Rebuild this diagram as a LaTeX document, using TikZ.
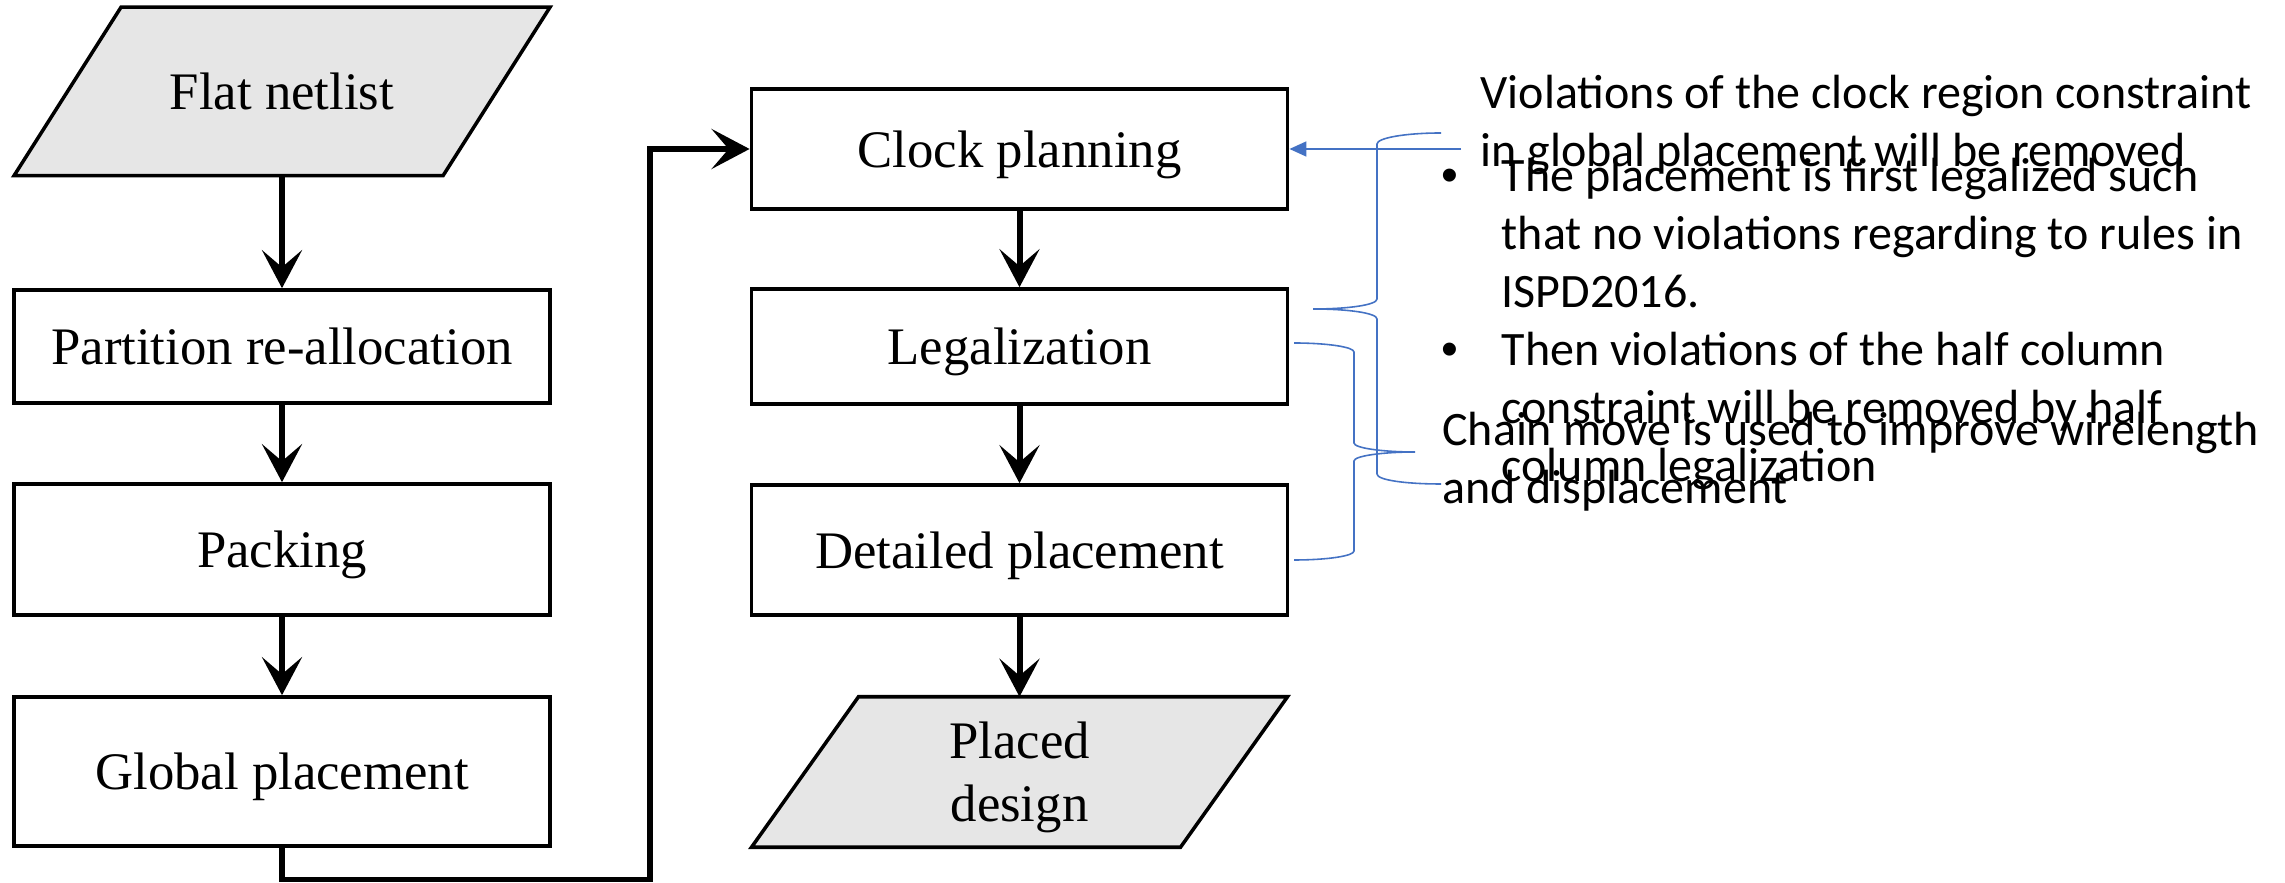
\documentclass[tikz,border=0pt]{standalone}
\usepackage{fontspec}
\setmainfont{Liberation Serif}
\newfontfamily\notefont{Carlito}
\newfontfamily\bulletfont{Liberation Sans}
\usetikzlibrary{arrows.meta,calc,backgrounds}
\definecolor{iofill}{RGB}{230,230,230}
\definecolor{noteblue}{RGB}{68,114,196}
\newcommand{\notebullet}{{\bulletfont\textbullet}}
\tikzset{
  boxfont/.style={font=\fontsize{15pt}{18pt}\selectfont},
  stepbox/.style={rectangle, draw, line width=1pt, fill=white, minimum width=5.36cm,
    inner sep=0pt, text depth=0pt, align=center, boxfont},
  iotext/.style={rectangle, minimum width=5.36cm, inner sep=0pt, text depth=0pt,
    align=center, boxfont},
  ioshape/.style={draw, line width=1pt, fill=iofill, line join=miter},
  flow/.style={line width=1.7pt, line join=miter,
    -{Stealth[length=0.38cm, width=0.40cm, inset=0.17cm]}},
  notearrow/.style={draw=noteblue, line width=0.45pt,
    -{Triangle[length=0.17cm, width=0.15cm]}},
  bracepath/.style={draw=noteblue, line width=0.45pt},
  note/.style={font=\notefont\fontsize{13.65pt}{16.45pt}\selectfont, inner sep=0pt,
    anchor=base west}
}
\begin{document}
\begin{tikzpicture}[x=0.01cm, y=-0.01cm]
\useasboundingbox (0,0) rectangle (2285,883);

% left column of the flow
\node[iotext, minimum height=1.67cm] (flat) at (282,91.5) {Flat netlist};
\node[stepbox, minimum height=1.13cm] (part) at (282,346.5) {Partition re-allocation};
\node[stepbox, minimum height=1.31cm] (pack) at (282,549.5) {Packing};
\node[stepbox, minimum height=1.49cm] (glob) at (282,771.5) {Global placement};

% right column of the flow
\node[stepbox, minimum height=1.20cm] (clock) at (1019.5,149) {Clock planning};
\node[stepbox, minimum height=1.15cm] (legal) at (1019.5,346.5) {Legalization};
\node[stepbox, minimum height=1.30cm] (detail) at (1019.5,550) {Detailed placement};
\node[iotext, minimum height=1.49cm] (placed) at (1019.5,772) {Placed\\design};

% input/output parallelograms behind their labels
\begin{scope}[on background layer]
  \fill[white] (0,0) rectangle (2285,883);
  \foreach \n in {flat,placed} {
    \draw[ioshape] ($(\n.north)+(-161,0)$) -- ($(\n.north)+(268,0)$)
      -- ($(\n.south)+(161,0)$) -- ($(\n.south)+(-268,0)$) -- cycle;
  }
\end{scope}

% flow connectors
\draw[flow] (flat.south) -- (part.north);
\draw[flow] (part.south) -- (pack.north);
\draw[flow] (pack.south) -- (glob.north);
\draw[flow] (clock.south) -- (legal.north);
\draw[flow] (legal.south) -- (detail.north);
\draw[flow] (detail.south) -- (placed.north);
\coordinate (route) at (650,879.5);
\draw[flow] (glob.south) |- (route) |- (clock.west);

% notes
\node[note] (viol) at (1480,109) {\begin{tabular}[t]{@{}l@{}}
Violations of the clock region constraint\\
in global placement will be removed
\end{tabular}};
\node[note] (steps) at (1441,192) {\begin{tabular}[t]{@{}p{0.60cm}@{}l@{}}
\notebullet & The placement is first legalized such\\
 & that no violations regarding to rules in\\
 & ISPD2016.\\
\notebullet & Then violations of the half column\\
 & constraint will be removed by half\\
 & column legalization
\end{tabular}};
\node[note] (chain) at (1441.5,446) {\begin{tabular}[t]{@{}l@{}}
Chain move is used to improve wirelength\\
and displacement
\end{tabular}};

% note pointer and braces
\coordinate (clocknote) at (1461,149);
\draw[notearrow] (clocknote) -- (clock.east);
\draw[bracepath] (1441,133) .. controls (1405,133) and (1377,138) .. (1377,144)
  -- (1377,299) .. controls (1377,305) and (1348,309) .. (1313,309)
  .. controls (1348,309) and (1377,313) .. (1377,319)
  -- (1377,474) .. controls (1377,480) and (1405,484) .. (1441,484);
\draw[bracepath] (1294,343) .. controls (1327,343) and (1354,347) .. (1354,352)
  -- (1354,443) .. controls (1354,448) and (1382,452) .. (1415,452)
  .. controls (1382,452) and (1354,456) .. (1354,461)
  -- (1354,551) .. controls (1354,556) and (1327,560) .. (1294,560);
\end{tikzpicture}
\end{document}
